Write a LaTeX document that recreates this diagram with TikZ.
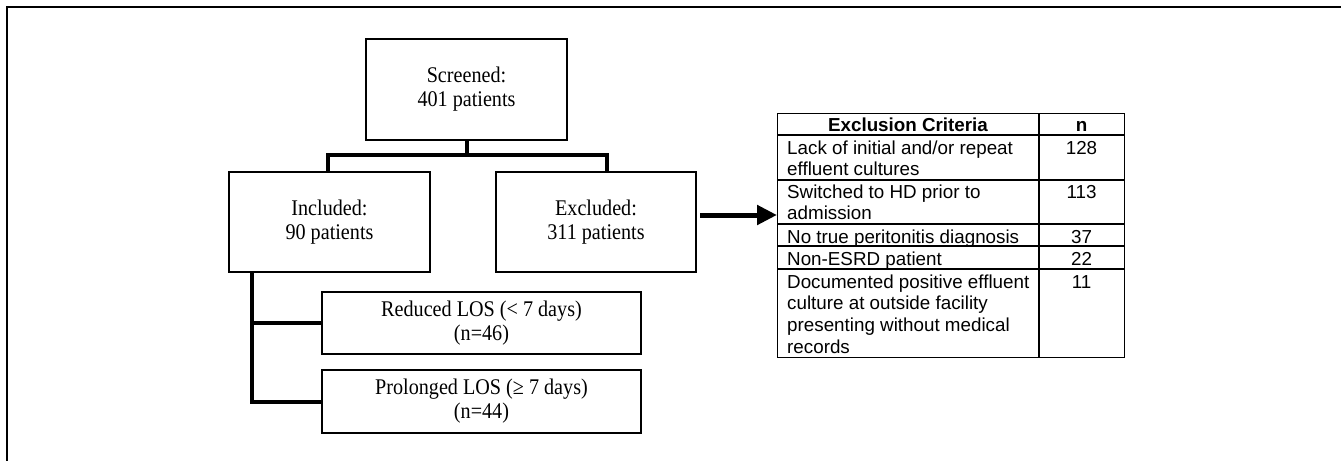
\documentclass[tikz,border=0pt]{standalone}
\usepackage{fontspec}
\setmainfont{Liberation Serif}
\newfontfamily\tnrf[FakeStretch=0.9]{Liberation Serif}
\newfontfamily\arialf[Ligatures=NoCommon]{Liberation Sans}
\usetikzlibrary{arrows.meta}
\begin{document}
\begin{tikzpicture}[x=1pt,y=-1pt,
  box/.style={draw, line width=1.6pt, inner sep=0pt, align=center, font=\tnrf\fontsize{22.4}{24}\selectfont},
  conn/.style={line width=4pt},
  tline/.style={line width=1.3pt},
  cell/.style={anchor=base west, inner sep=0pt, align=left, font=\arialf\fontsize{18.8}{21.8}\selectfont},
  ncell/.style={anchor=base, inner sep=0pt, font=\arialf\fontsize{18.8}{21.8}\selectfont},
  hcell/.style={anchor=base, inner sep=0pt, font=\arialf\bfseries\fontsize{18.8}{21.8}\selectfont},
]
\useasboundingbox (0,0) rectangle (1341,461);
\draw[line width=1.6pt] (1341,7) -- (7,7) -- (7,461);

% flowchart boxes
\node[box, minimum width=201pt, minimum height=101pt] (scr) at (466.5,89.5) {Screened:\\401 patients};
\node[box, minimum width=201pt, minimum height=100pt] (inc) at (329.5,222) {Included:\\90 patients};
\node[box, minimum width=200pt, minimum height=100pt] (exc) at (596,222) {Excluded:\\311 patients};
\node[box, minimum width=319pt, minimum height=62pt] (red) at (481.5,323) {Reduced LOS (< 7 days)\\(n=46)};
\node[box, minimum width=319pt, minimum height=63pt] (pro) at (481.5,401.5) {Prolonged LOS (≥ 7 days)\\(n=44)};

% connectors
\coordinate (barL) at (328,155);
\coordinate (barR) at (607,155);
\coordinate (vl) at (252,0);
\draw[conn] (scr.south) -- (scr.south |- barL);
\draw[conn] (inc.north -| barL) -- (barL) -- (barR) -- (exc.north -| barR);
\draw[conn] (inc.south -| vl) |- (red.west);
\draw[conn] (inc.south -| vl) |- (pro.west);

% exclusion table
\node[draw, line width=1.3pt, minimum width=347pt, minimum height=244pt, inner sep=0pt, anchor=north west] (crit) at (777,113) {};
\coordinate (div) at (1039,0);
\draw[tline] (crit.north -| div) -- (crit.south -| div);
\foreach \yy in {135,180,224,246,269} \draw[tline] (crit.west |- 0,\yy) -- (crit.east |- 0,\yy);

\coordinate (arrS) at (700,215);
\draw[line width=5pt, -{Triangle[length=20pt,width=19pt]}] (arrS) -- (arrS -| crit.west);

% table texts (base = baseline of the last line)
\node[hcell] (h1) at (908,131) {Exclusion Criteria};
\node[hcell] (h2) at (1081.5,131) {n};
\node[cell] (r1) at (787,175.8) {Lack of initial and/or repeat\\effluent cultures};
\node[ncell] (n1) at (1081.5,154) {128};
\node[cell] (r2) at (787,219.8) {Switched to HD prior to\\admission};
\node[ncell] (n2) at (1081.5,198) {113};
\node[cell] (r3) at (787,243) {No true peritonitis diagnosis};
\node[ncell] (n3) at (1081.5,243) {37};
\node[cell] (r4) at (787,265) {Non-ESRD patient};
\node[ncell] (n4) at (1081.5,265) {22};
\node[cell] (r5) at (787,353.4) {Documented positive effluent\\culture at outside facility\\presenting without medical\\records};
\node[ncell] (n5) at (1081.5,288) {11};
\end{tikzpicture}
\end{document}
